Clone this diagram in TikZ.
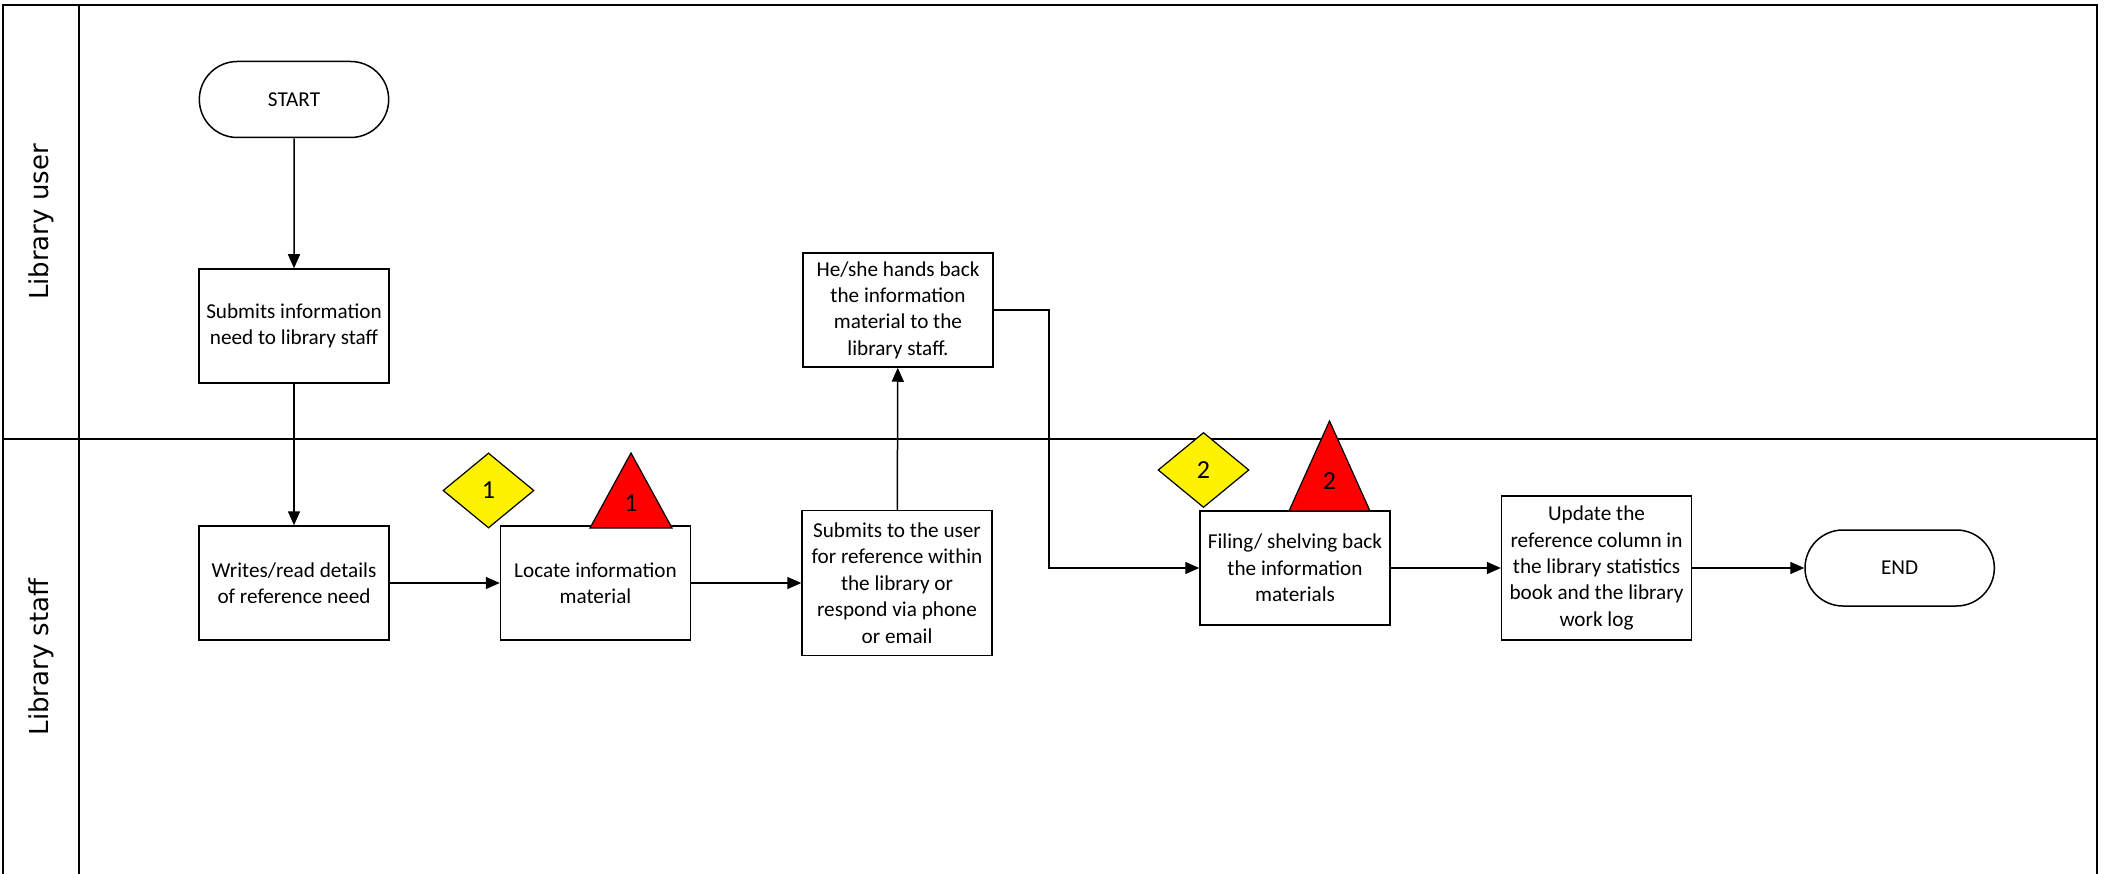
\documentclass[tikz,border=0pt]{standalone}
\usepackage{fontspec}
\setmainfont{Carlito}
\newfontfamily\lanefont{DejaVu Sans}
\usetikzlibrary{shapes.geometric,shapes.misc,arrows.meta,positioning}

\begin{document}
\begin{tikzpicture}[x=1pt,y=-1pt,->,>={Triangle[length=14pt,width=12pt]},line width=1.5pt,node distance=110pt,
    main node/.style={draw,rectangle,minimum width=190pt,minimum height=114pt,align=center,inner sep=2pt,font=\fontsize{21.2}{26.4}\selectfont},
    end node/.style={draw,rounded rectangle,minimum width=196pt,minimum height=76pt,font=\fontsize{21.2}{26.4}\selectfont},
    lane/.style={line width=2.2pt,-},
    flag/.style={draw,diamond,fill=yellow,line width=1.2pt,minimum width=91pt,minimum height=75pt,inner sep=0pt,font=\fontsize{26}{28}\selectfont},
    risk/.style={draw,fill=red,line width=1.2pt,-,line join=miter},
    tag/.style={font=\fontsize{26}{28}\selectfont,inner sep=0pt}]
    \useasboundingbox (0,0) rectangle (2109,874);

    % swimlanes
    \draw[lane] (3,874) -- (3,5) -- (2097,5) -- (2097,874);
    \draw[lane] (79,5) -- (79,874);
    \draw[lane] (3,439) -- (2097,439);
    \node[rotate=90,font=\lanefont\fontsize{26}{28}\selectfont] (u) at (41,222) {Library user};
    \node[rotate=90,font=\lanefont\fontsize{26}{28}\selectfont] (s) at (41,657) {Library staff};

    \node[end node] (0) at (294,99.5) {START};
    \node[main node] (1) at (294,326) {Submits information\\need to library staff};
    \node[main node] (2) at (294,583) {Writes/read details\\of reference need};
    \node[main node] (3) [right = of 2] {Locate information\\material};
    \node[main node, minimum height=145pt] (4) [right = of 3] {Submits to the user\\for reference within\\the library or\\respond via phone\\or email};
    \node[main node] (5) at (898,310) {He/she hands back\\the information\\material to the\\library staff.};
    \node[main node] (6) at (1295,568) {Filing/ shelving back\\the information\\materials};
    \node[main node, minimum height=144pt] (7) [right = of 6] {Update the\\reference column in\\the library statistics\\book and the library\\work log};
    \node[end node] (8) [right = 112pt of 7] {END};

    % markers
    \node[flag] (d1) at (488.5,490.5) {1};
    \node[flag] (d2) at (1203.5,470) {2};
    \draw[risk] (590,528) -- (631,453) -- (672,528) -- cycle;
    \node[tag] (t1) at (631,503) {1};
    \draw[risk] (1289,511) -- (1329.5,421) -- (1370,511) -- cycle;
    \node[tag] (t2) at (1329.5,481) {2};

    \path
        (0) edge (1)
        (1) edge (2)
        (2) edge (3)
        (3) edge (4)
        (4) edge (5)
        (6) edge (7)
        (7) edge (8)
        ;
    \draw (5.east) -- ++(55,0) |- (6);
\end{tikzpicture}
\end{document}
